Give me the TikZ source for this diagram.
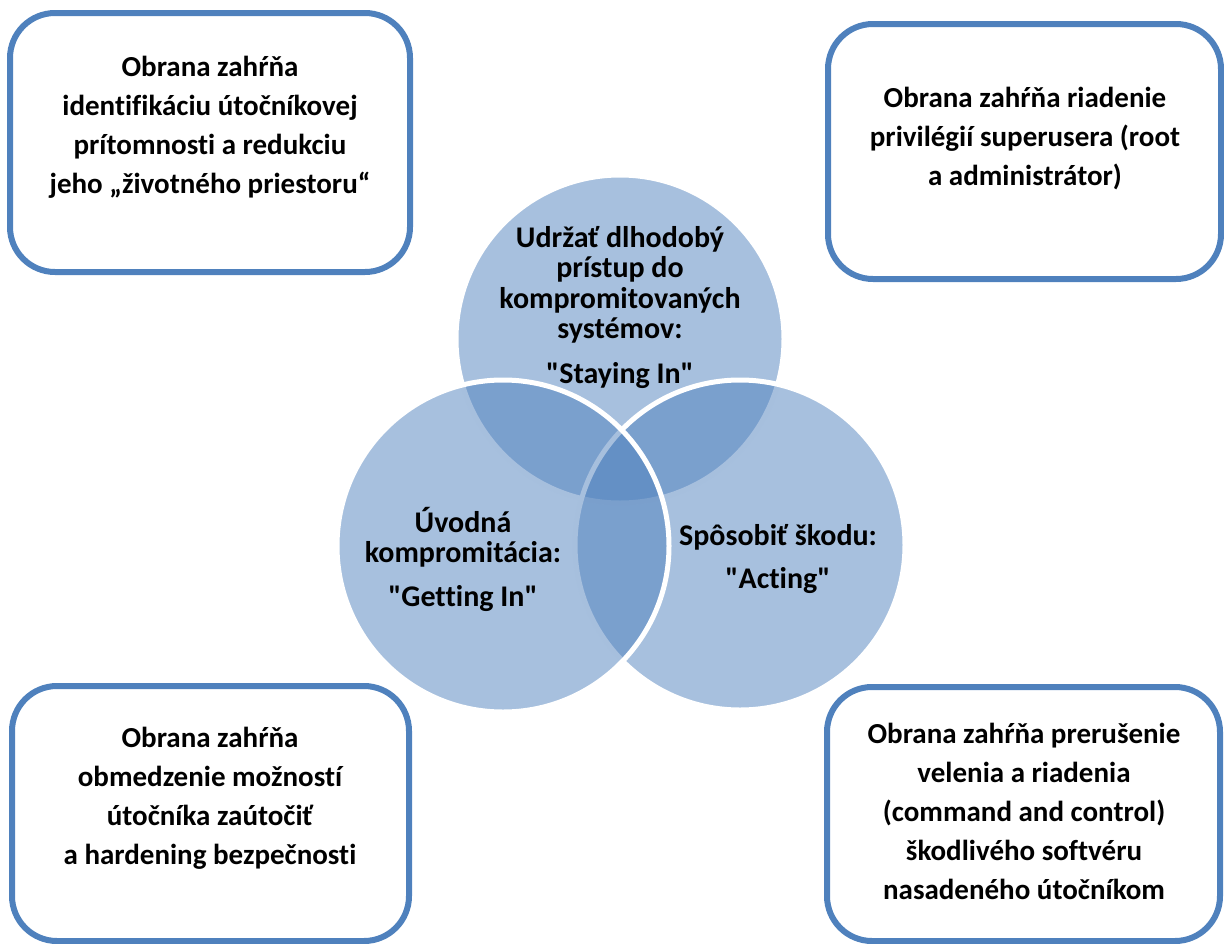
\documentclass[tikz,border=0pt]{standalone}
\usepackage{fontspec}
\setmainfont{Carlito}[Ligatures={TeXOff,NoCommon}]
\definecolor{acc}{HTML}{4F81BD}
\begin{document}
\begin{tikzpicture}[x=1pt,y=-1pt,
  venn/.style={fill=acc, fill opacity=0.5, draw=white, line width=5pt},
  defbox/.style={draw=acc, line width=6pt, rounded corners=45pt},
  boxtext/.style={font=\bfseries\fontsize{29}{39}\selectfont, align=center, text=black, inner sep=0pt},
  venntext/.style={font=\bfseries\fontsize{30}{30.5}\selectfont, align=center, text=black, inner sep=0pt}]
\useasboundingbox (0,0) rectangle (1224,943);

% defence boxes
\draw[defbox] (10,13) rectangle (410,272);
\draw[defbox] (828,24) rectangle (1221,279);
\draw[defbox] (12,686) rectangle (409,941);
\draw[defbox] (827,687) rectangle (1220,941);

% Venn circles (order: top, right, left)
\draw[venn] (620,339) circle[radius=164];
\draw[venn] (740,545) circle[radius=165];
\draw[venn] (503,546) circle[radius=166];

% circle texts
\node[venntext] (stay) at (620,307) {Udržať dlhodobý\\prístup do\\kompromitovaných\\systémov:\\[14pt]"Staying In"};
\node[venntext] (get) at (463,559) {Úvodná\\kompromitácia:\\[13pt]"Getting In"};
\node[venntext] (act) at (778,559) {Spôsobiť škodu:\\[13pt]"Acting"};

% box texts
\node[boxtext] (tl) at (210,127) {Obrana zahŕňa\\identifikáciu útočníkovej\\prítomnosti a redukciu\\jeho „životného priestoru“};
\node[boxtext] (tr) at (1025,139) {Obrana zahŕňa riadenie\\privilégií superusera (root\\a administrátor)};
\node[boxtext] (bl) at (210,798) {Obrana zahŕňa\\obmedzenie možností\\útočníka zaútočiť\\a hardening bezpečnosti};
\node[boxtext] (br) at (1024,811) {Obrana zahŕňa prerušenie\\velenia a riadenia\\(command and control)\\škodlivého softvéru\\nasadeného útočníkom};
\end{tikzpicture}
\end{document}
